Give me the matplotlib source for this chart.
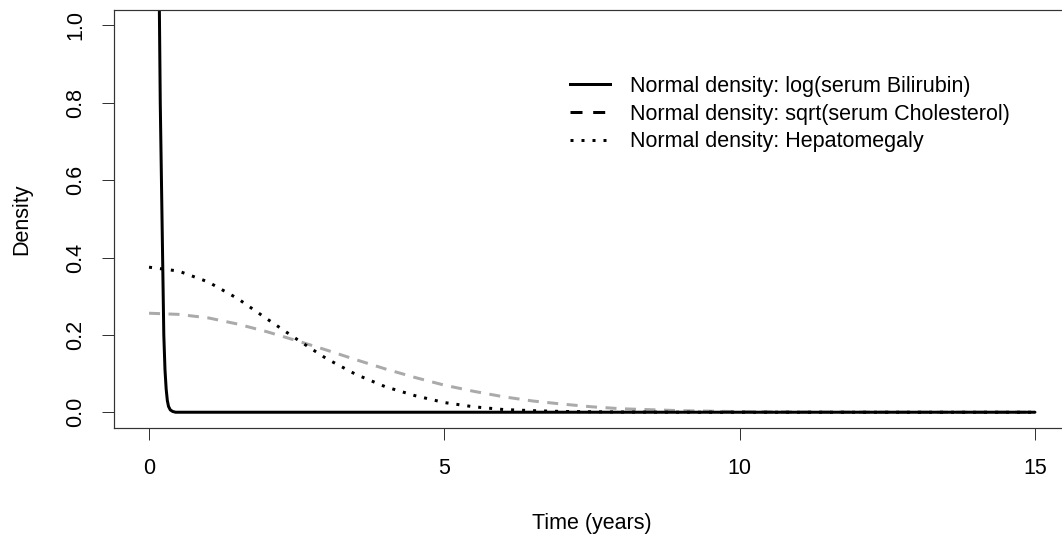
import matplotlib
matplotlib.use("Agg")
import matplotlib.pyplot as plt
from matplotlib.lines import Line2D

plt.rcParams['font.family'] = ['Liberation Sans', 'DejaVu Sans']
plt.rcParams['lines.scale_dashes'] = False

# ---- data ----
bili_x = [0.0, 0.175, 0.19, 0.21, 0.23, 0.25, 0.27, 0.29, 0.31, 0.33, 0.36, 0.40, 0.45,
          0.5, 1.0, 2.0, 4.0, 6.0, 8.0, 10.0, 12.0, 15.0]
bili_y = [3.0, 1.04, 0.80, 0.60, 0.40, 0.20, 0.11, 0.06, 0.03, 0.015, 0.006, 0.002, 0.0,
          0.0, 0.0, 0.0, 0.0, 0.0, 0.0, 0.0, 0.0, 0.0]

chol_x = [0.0, 0.5, 1.0, 1.5, 2.0, 2.5, 3.0, 3.5, 4.0, 4.5, 5.0, 5.5, 6.0, 6.5, 7.0,
          7.5, 8.0, 9.0, 10.0, 11.0, 12.0, 13.0, 15.0]
chol_y = [0.256, 0.253, 0.244, 0.228, 0.208, 0.185, 0.161, 0.136, 0.112, 0.090, 0.070,
          0.054, 0.040, 0.029, 0.021, 0.014, 0.009, 0.004, 0.0015, 0.0005, 0.0002, 0.0, 0.0]

hep_x = [0.0, 0.5, 1.0, 1.5, 2.0, 2.5, 3.0, 3.5, 4.0, 4.5, 5.0, 5.5, 6.0, 6.5, 7.0,
         8.0, 9.0, 10.0, 12.0, 15.0]
hep_y = [0.375, 0.365, 0.337, 0.294, 0.241, 0.189, 0.139, 0.098, 0.066, 0.043, 0.025,
         0.014, 0.007, 0.004, 0.002, 0.0005, 0.0, 0.0, 0.0, 0.0]

legend_labels = ["Normal density: log(serum Bilirubin)",
                 "Normal density: sqrt(serum Cholesterol)",
                 "Normal density: Hepatomegaly"]
x_ticks = [0, 5, 10, 15]
y_ticks = [0.0, 0.2, 0.4, 0.6, 0.8, 1.0]
y_ticklabels = ["0.0", "0.2", "0.4", "0.6", "0.8", "1.0"]

FS = 15.5
px = 0.72  # points per pixel at dpi 100

fig = plt.figure(figsize=(10.62, 5.40), dpi=100)
L, R, T, B = 113.6, 1070.4, 10.0, 427.7
ax = fig.add_axes([L / 1062, 1 - B / 540, (R - L) / 1062, (B - T) / 540])

ax.plot(chol_x, chol_y, color='#aaaaaa', lw=3 * px, linestyle=(0, (11 * px, 8.5 * px)),
        dash_capstyle='butt', solid_joinstyle='round')
ax.plot(hep_x, hep_y, color='black', lw=3 * px, linestyle=(0, (3 * px, 8 * px)),
        dash_capstyle='butt')
ax.plot(bili_x, bili_y, color='black', lw=3 * px, solid_capstyle='round',
        solid_joinstyle='round')

ax.set_xlim(-0.6, 15.6)
ax.set_ylim(-0.04, 1.04)
ax.set_xticks(x_ticks)
ax.set_xticklabels([str(t) for t in x_ticks], fontsize=FS)
ax.set_yticks(y_ticks)
ax.set_yticklabels(y_ticklabels, fontsize=FS, rotation=90, va='center')
ax.tick_params(axis='both', direction='out', length=12 * px, width=1 * px, color='#333333')
ax.tick_params(axis='x', pad=13)
ax.tick_params(axis='y', pad=11)
for s in ax.spines.values():
    s.set_linewidth(1.2 * px)
    s.set_color('#333333')

fig.text(592 / 1062, 1 - 523 / 540, "Time (years)", fontsize=FS, ha='center', va='center')
fig.text(22 / 1062, 1 - 219 / 540, "Density", fontsize=FS, ha='center', va='center',
         rotation=90)

handles = [
    Line2D([], [], color='black', lw=3 * px),
    Line2D([], [], color='black', lw=3 * px, linestyle=(0, (12 * px, 10.7 * px)),
           dash_capstyle='butt'),
    Line2D([], [], color='black', lw=3 * px, linestyle=(0, (3 * px, 8 * px)),
           dash_capstyle='butt'),
]
fs_px = FS / px
leg = ax.legend(handles, legend_labels, loc='upper left',
                bbox_to_anchor=(570 / 1062, 1 - 76 / 540), bbox_transform=fig.transFigure,
                frameon=False, fontsize=FS, handlelength=40 / fs_px, handletextpad=20 / fs_px,
                labelspacing=0.31, borderpad=0, borderaxespad=0)

fig.savefig("out.png", dpi=100)
